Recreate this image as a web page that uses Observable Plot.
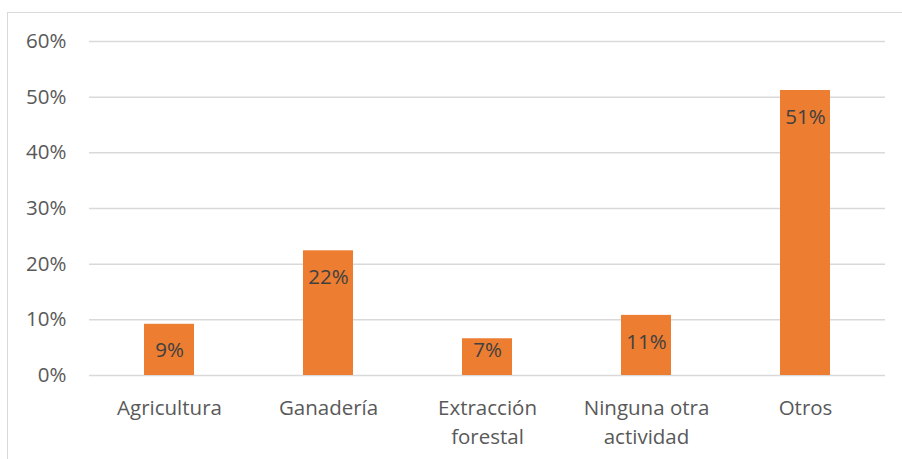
<!DOCTYPE html>
<html><head><meta charset="utf-8">
<script src="https://cdn.jsdelivr.net/npm/d3@7"></script>
<script src="https://cdn.jsdelivr.net/npm/@observablehq/plot@0.6"></script>
<style>
html,body{margin:0;padding:0;background:#fff;}
#frame{position:absolute;left:7px;top:12px;width:894px;height:446px;border-top:1.5px solid #d9d9d9;border-left:1.5px solid #d9d9d9;}
svg{font-family:"Open Sans", sans-serif;}
</style></head>
<body><div id="frame"></div>
<script>
const categories = ["Agricultura", "Ganadería", "Extracción forestal", "Ninguna otra actividad", "Otros"];
const tickLabels = ["Agricultura", "Ganadería", "Extracción\nforestal", "Ninguna otra\nactividad", "Otros"];
const values = [0.092, 0.224, 0.066, 0.108, 0.512];
const yTicks = [0, 0.1, 0.2, 0.3, 0.4, 0.5, 0.6];

const data = categories.map((c, i) => ({cat: c, value: values[i]}));
const labelOf = new Map(categories.map((c, i) => [c, tickLabels[i]]));
const fmt = d => Math.round(d.value * 100) + "%";
// Short bars: label sits at the bottom of the bar (inside-end clamp)
const SHORT = 0.095;

const chart = Plot.plot({
  width: 894,
  height: 446,
  marginLeft: 81,
  marginRight: 17,
  marginTop: 28,
  marginBottom: 84,
  style: {fontSize: "20.5px", fontFamily: "'Open Sans', sans-serif", background: "transparent"},
  x: {domain: categories, paddingInner: 0.686, paddingOuter: 0.343, label: null},
  y: {domain: [0, 0.6], label: null},
  marks: [
    Plot.gridY(yTicks, {stroke: "#d9d9d9", strokeOpacity: 1, strokeWidth: 1.5}),
    Plot.barY(data, {x: "cat", y: "value", fill: "#ED7D31"}),
    Plot.text(data.filter(d => d.value >= SHORT), {x: "cat", y: "value", text: fmt, dy: 27, fill: "#404040", fontSize: 20.5}),
    Plot.text(data.filter(d => d.value < SHORT), {x: "cat", y: 0, text: fmt, dy: -25, fill: "#404040", fontSize: 20.5}),
    Plot.axisY(yTicks, {tickSize: 0, tickPadding: 23, tickFormat: d => Math.round(d * 100) + "%", fill: "#595959", fontSize: 20.5, label: null}),
    Plot.axisX({tickSize: 0, tickPadding: 20, tickFormat: d => labelOf.get(d), fill: "#595959", fontSize: 20.5, lineHeight: 1.37, label: null})
  ]
});
chart.style.position = "absolute";
chart.style.left = "8px";
chart.style.top = "13px";
document.body.appendChild(chart);
</script>
</body></html>
